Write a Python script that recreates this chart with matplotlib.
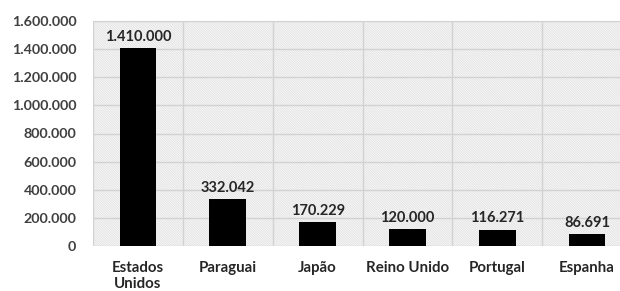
import matplotlib
matplotlib.use("Agg")
import matplotlib.pyplot as plt
from matplotlib.patches import Rectangle
from matplotlib.ticker import FuncFormatter, MultipleLocator

categories = ["Estados\nUnidos", "Paraguai", "Japão", "Reino Unido", "Portugal", "Espanha"]
values = [1410000, 332042, 170229, 120000, 116271, 86691]

def fmt(v):
    return f"{int(v):,}".replace(",", ".")

plt.rcParams['font.family'] = ['Lato', 'DejaVu Sans']
plt.rcParams['hatch.linewidth'] = 0.6

fig = plt.figure(figsize=(6.2, 2.91), dpi=100)
ax = fig.add_axes([93/620, 1 - 246/291, 539/620, 225/291])

ax.set_xlim(-0.5, len(categories) - 0.5)
ax.set_ylim(0, 1600000)

# hatched background
bg = Rectangle((0, 0), 1, 1, transform=ax.transAxes, facecolor='#f8f8f8',
               edgecolor='#e2e2e2', hatch='\\' * 14, linewidth=0, zorder=0)
ax.add_patch(bg)

ax.yaxis.set_major_locator(MultipleLocator(200000))
ax.yaxis.set_major_formatter(FuncFormatter(lambda v, p: fmt(v)))
ax.set_xticks(range(len(categories)))
ax.set_xticklabels(categories)
ax.set_xticks([i + 0.5 for i in range(-1, len(categories))], minor=True)

ax.grid(axis='y', which='major', color='#d2d2d2', linewidth=1.0, zorder=1)
ax.grid(axis='x', which='minor', color='#d2d2d2', linewidth=1.0, zorder=1)
ax.grid(axis='x', which='major', visible=False)
ax.set_axisbelow(True)

bars = ax.bar(range(len(categories)), values, width=0.41, color='black', zorder=3)
for i, v in enumerate(values):
    ax.annotate(fmt(v), (i, v), xytext=(0, 3), textcoords='offset points',
                ha='center', va='bottom', fontsize=10.5, fontweight='bold', color='#262626')

for s in ax.spines.values():
    s.set_visible(False)
ax.spines['top'].set_visible(True)
ax.spines['top'].set_color('#d2d2d2')

ax.tick_params(axis='both', which='both', length=0)
ax.tick_params(axis='y', pad=12, labelsize=10.3, labelcolor='#404040')
ax.tick_params(axis='x', pad=11, labelsize=10.8, labelcolor='#262626')
for lab in ax.get_yticklabels() + ax.get_xticklabels():
    lab.set_fontweight('bold')
for lab in ax.get_xticklabels():
    lab.set_linespacing(1.2)

fig.savefig("out.png", dpi=100)
